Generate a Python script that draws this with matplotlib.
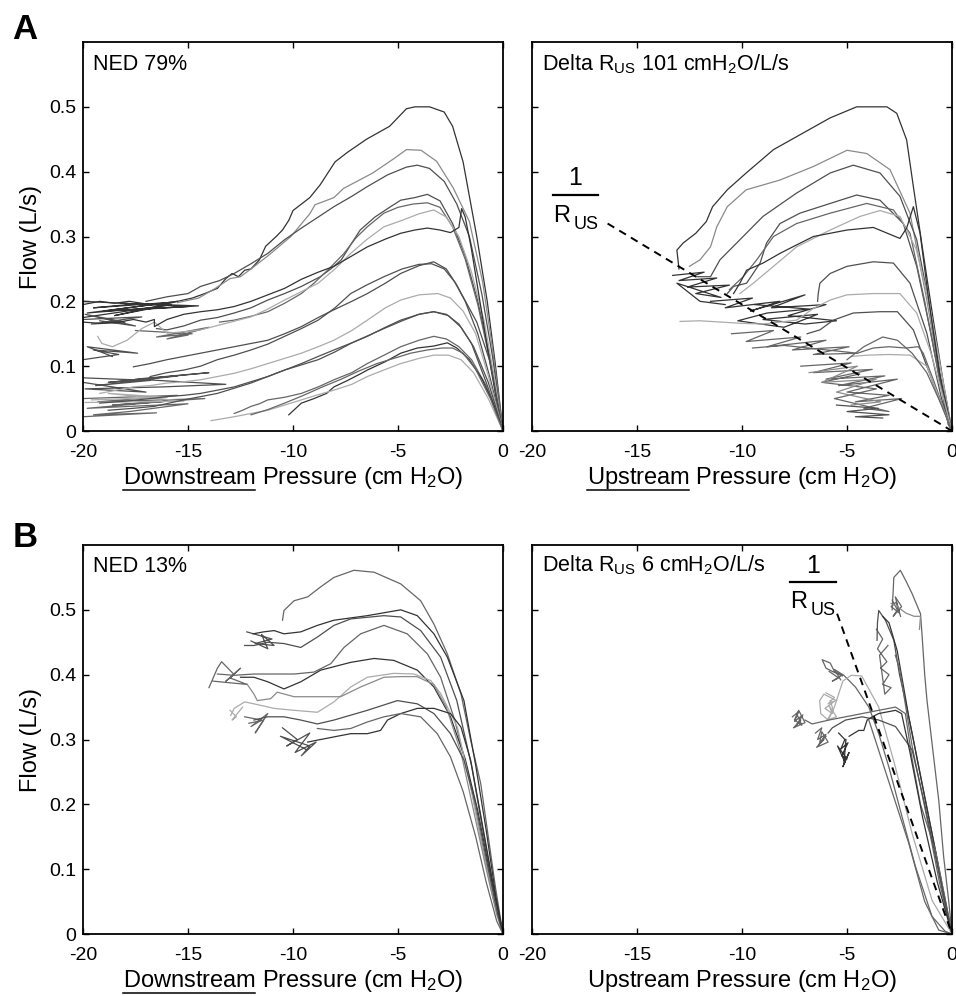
# Flow vs downstream / upstream pressure, NED panels A and B

import matplotlib
matplotlib.use("Agg")
import matplotlib.pyplot as plt
from matplotlib.lines import Line2D

plt.rcParams['font.family'] = ['Liberation Sans', 'DejaVu Sans']
plt.rcParams['mathtext.fontset'] = 'custom'
plt.rcParams['mathtext.rm'] = 'Liberation Sans'
plt.rcParams['mathtext.default'] = 'regular'
plt.rcParams['axes.unicode_minus'] = False

# ---------------- data (pressure cmH2O, flow L/s) ----------------

xticks = [-20, -15, -10, -5, 0]
xtick_labels = ["-20", "-15", "-10", "-5", "0"]
yticks = [0, 0.1, 0.2, 0.3, 0.4, 0.5]
ytick_labels = ["0", "0.1", "0.2", "0.3", "0.4", "0.5"]

# Panel A, downstream pressure
a_dn_p1 = [-20, -19.2, -18.5, -17.8, -17, -16.2, -15.5, -14.8, -14.2, -13.6, -13.2, -12.9, -12.6, -12.3, -12.0, -11.6, -11.3, -10.8, -10.5, -10.2, -10.0, -9.6, -9.2, -8.7, -8.0, -7.4, -6.5, -5.4, -4.6, -4.2, -3.5, -2.8, -2.4, -1.9, -1.25, -0.75, -0.38, 0]
a_dn_f1 = [0.195, 0.2, 0.197, 0.2, 0.196, 0.197, 0.2, 0.205, 0.212, 0.22, 0.235, 0.243, 0.238, 0.248, 0.25, 0.264, 0.285, 0.3, 0.31, 0.325, 0.34, 0.35, 0.36, 0.38, 0.415, 0.43, 0.45, 0.47, 0.497, 0.5, 0.5, 0.492, 0.47, 0.415, 0.3, 0.2, 0.107, 0.0]
a_dn_p2 = [-15.5, -14.5, -13.7, -13.0, -12.5, -12.0, -11.2, -10.1, -9.2, -8.95, -8.05, -7.6, -6.2, -5.2, -4.6, -3.9, -3.16, -2.37, -1.6, -0.97, -0.5, 0]
a_dn_f2 = [0.198, 0.205, 0.22, 0.235, 0.238, 0.25, 0.27, 0.3, 0.335, 0.349, 0.36, 0.374, 0.398, 0.42, 0.434, 0.433, 0.416, 0.375, 0.323, 0.23, 0.127, 0.0]
a_dn_p3 = [-17, -16, -15, -14.4, -13.5, -12.8, -12, -11.2, -10.4, -9.6, -8.8, -8.05, -7.2, -6.46, -5.5, -4.6, -4.08, -3.5, -2.8, -2.2, -1.6, -1.0, -0.5, 0]
a_dn_f3 = [0.2, 0.207, 0.212, 0.223, 0.232, 0.243, 0.258, 0.274, 0.295, 0.313, 0.33, 0.346, 0.362, 0.377, 0.395, 0.407, 0.41, 0.405, 0.385, 0.35, 0.3, 0.21, 0.115, 0.0]
a_dn_p4 = [-16.5, -16, -15.2, -14.4, -13.6, -12.8, -12, -11.2, -10.4, -9.6, -8.7, -8.2, -7.7, -7.2, -6.8, -6.1, -5.4, -4.87, -4.2, -3.6, -3.0, -2.4, -1.8, -1.2, -0.6, 0]
a_dn_f4 = [0.158, 0.156, 0.162, 0.171, 0.175, 0.182, 0.19, 0.202, 0.212, 0.223, 0.238, 0.25, 0.264, 0.29, 0.31, 0.33, 0.345, 0.356, 0.36, 0.365, 0.355, 0.32, 0.27, 0.2, 0.11, 0.0]
a_dn_p5 = [-13.5, -12.8, -12, -11.2, -10.4, -9.6, -9.0, -8.35, -7.57, -7.0, -6.46, -5.67, -5.0, -4.3, -3.6, -3.0, -2.4, -1.8, -1.2, -0.6, 0]
a_dn_f5 = [0.168, 0.171, 0.177, 0.184, 0.197, 0.212, 0.228, 0.248, 0.274, 0.298, 0.315, 0.336, 0.345, 0.35, 0.352, 0.345, 0.315, 0.265, 0.195, 0.105, 0.0]
a_dn_p6 = [-19.3, -19.1, -18.6, -17.9, -17.2, -16.6, -16, -15.2, -14.4, -13.2, -12, -11.2, -10.4, -9.6, -8.8, -8, -7.25, -6.5, -5.67, -4.8, -4, -3.3, -2.7, -2.1, -1.5, -0.9, -0.4, 0]
a_dn_f6 = [0.146, 0.135, 0.13, 0.14, 0.158, 0.168, 0.151, 0.153, 0.156, 0.166, 0.176, 0.188, 0.202, 0.215, 0.228, 0.25, 0.274, 0.295, 0.315, 0.325, 0.335, 0.341, 0.33, 0.3, 0.245, 0.17, 0.08, 0.0]
a_dn_p7 = [-20, -19.2, -18.3, -17.6, -17.0, -16.6, -16.6, -16.0, -15.2, -14.4, -13.6, -12.8, -12.0, -11.2, -10.4, -9.6, -8.8, -8.05, -7.2, -6.46, -5.6, -4.87, -4.2, -3.6, -3.0, -2.5, -2.1, -1.97, -1.8, -1.5, -1.1, -0.7, -0.35, 0]
a_dn_f7 = [0.168, 0.166, 0.168, 0.172, 0.168, 0.172, 0.161, 0.172, 0.18, 0.184, 0.187, 0.192, 0.2, 0.21, 0.22, 0.234, 0.245, 0.254, 0.27, 0.284, 0.296, 0.305, 0.31, 0.313, 0.31, 0.306, 0.314, 0.343, 0.33, 0.28, 0.2, 0.12, 0.055, 0.0]
a_dn_p8 = [-17.6, -16.8, -16, -15.2, -14.4, -13.6, -12.8, -12, -11.2, -10.4, -9.6, -8.8, -8.05, -7.2, -6.46, -5.6, -4.87, -4, -3.3, -2.7, -2.2, -1.7, -1.25, -0.62, 0]
a_dn_f8 = [0.099, 0.104, 0.11, 0.115, 0.12, 0.125, 0.13, 0.135, 0.14, 0.15, 0.161, 0.175, 0.187, 0.2, 0.212, 0.228, 0.243, 0.255, 0.261, 0.25, 0.225, 0.195, 0.168, 0.107, 0.0]
a_dn_p9 = [-16.8, -16, -15.2, -14.4, -13.6, -12.8, -12, -11.2, -10.4, -9.6, -8.8, -8.0, -7.25, -6.5, -5.67, -4.8, -4.0, -3.4, -2.8, -2.3, -1.8, -1.2, -0.6, 0]
a_dn_f9 = [0.084, 0.09, 0.094, 0.1, 0.11, 0.117, 0.125, 0.134, 0.146, 0.158, 0.171, 0.19, 0.212, 0.225, 0.238, 0.25, 0.257, 0.258, 0.25, 0.23, 0.2, 0.15, 0.08, 0.0]
a_dn_p10 = [-19.2, -18.4, -17.6, -16.8, -16, -15.2, -14.4, -13.6, -12.8, -12, -11.2, -10.4, -9.6, -8.8, -8.05, -7.2, -6.46, -5.6, -4.87, -4, -3.1, -2.5, -1.9, -1.3, -0.7, 0]
a_dn_f10 = [0.058, 0.063, 0.068, 0.07, 0.074, 0.076, 0.079, 0.084, 0.089, 0.096, 0.104, 0.112, 0.12, 0.13, 0.14, 0.155, 0.171, 0.19, 0.202, 0.21, 0.212, 0.205, 0.185, 0.15, 0.085, 0.0]
a_dn_p11 = [-19.2, -18, -16.8, -16, -15.2, -14.4, -13.6, -12.8, -12, -11.2, -10.4, -9.6, -8.8, -8.05, -7.2, -6.46, -5.6, -4.87, -4, -3.3, -2.6, -2.0, -1.4, -0.7, 0]
a_dn_f11 = [0.043, 0.046, 0.05, 0.053, 0.055, 0.058, 0.063, 0.068, 0.076, 0.084, 0.094, 0.104, 0.115, 0.125, 0.136, 0.146, 0.16, 0.171, 0.18, 0.184, 0.178, 0.16, 0.13, 0.075, 0.0]
a_dn_p12 = [-18.8, -17.6, -16.6, -15.2, -14.4, -13.6, -12.8, -12, -11.2, -10.4, -9.6, -8.8, -8.0, -7.25, -6.5, -5.67, -4.8, -4, -3.3, -2.7, -2.1, -1.5, -0.8, 0]
a_dn_f12 = [0.032, 0.035, 0.038, 0.048, 0.053, 0.058, 0.066, 0.074, 0.084, 0.094, 0.102, 0.11, 0.122, 0.135, 0.146, 0.158, 0.17, 0.18, 0.184, 0.18, 0.165, 0.135, 0.075, 0.0]
a_dn_p13 = [-12.8, -12.4, -12, -11.6, -11.2, -10.4, -9.6, -8.8, -8.05, -7.2, -6.46, -5.6, -4.87, -4, -3.3, -2.7, -2.1, -1.5, -0.8, 0]
a_dn_f13 = [0.027, 0.032, 0.038, 0.042, 0.048, 0.052, 0.058, 0.068, 0.079, 0.09, 0.104, 0.118, 0.13, 0.14, 0.146, 0.142, 0.13, 0.11, 0.07, 0.0]
a_dn_p14 = [-10.2, -9.6, -9.0, -8.4, -8.05, -7.4, -6.8, -6.46, -5.6, -4.87, -4.08, -3.3, -2.65, -2.2, -1.6, -1.0, -0.5, 0]
a_dn_f14 = [0.025, 0.043, 0.05, 0.058, 0.068, 0.078, 0.088, 0.094, 0.107, 0.12, 0.128, 0.131, 0.136, 0.128, 0.11, 0.08, 0.045, 0.0]
a_dn_p15 = [-13.9, -12.8, -11.2, -10.4, -9.6, -8.8, -8.05, -7.2, -6.46, -5.6, -4.87, -4, -3.3, -2.6, -2.0, -1.4, -0.7, 0]
a_dn_f15 = [0.016, 0.022, 0.032, 0.04, 0.048, 0.056, 0.063, 0.072, 0.084, 0.095, 0.104, 0.112, 0.117, 0.117, 0.11, 0.09, 0.05, 0.0]
a_dn_p16 = [-12, -11.2, -10.4, -9.5, -8.6, -7.7, -6.9, -6, -5.2, -4.4, -3.6, -2.9, -2.4, -1.9, -1.3, -0.6, 0]
a_dn_f16 = [0.025, 0.033, 0.043, 0.055, 0.068, 0.08, 0.092, 0.104, 0.112, 0.12, 0.125, 0.128, 0.128, 0.12, 0.095, 0.05, 0.0]
# noisy tails at the far left
a_dn_pj1 = [-20, -17.5, -19.5, -16, -19, -15, -18.2, -14.5, -17, -15.5, -19.8, -16.8, -18.5, -15.8, -20]
a_dn_fj1 = [0.2, 0.196, 0.19, 0.198, 0.185, 0.192, 0.197, 0.193, 0.188, 0.2, 0.182, 0.19, 0.178, 0.195, 0.175]
a_dn_pj2 = [-20, -17.2, -19.6, -18, -19.9, -17.5, -19.2]
a_dn_fj2 = [0.172, 0.176, 0.165, 0.168, 0.18, 0.162, 0.17]
a_dn_pj3 = [-17.5, -14.8, -16.5, -14, -16, -15]
a_dn_fj3 = [0.155, 0.15, 0.145, 0.16, 0.142, 0.148]
a_dn_pj4 = [-20, -18.3, -19.5, -17.4, -19.8, -18.6]
a_dn_fj4 = [0.11, 0.118, 0.125, 0.12, 0.13, 0.115]
a_dn_pj5 = [-20, -16.8, -19.4, -15.5, -18.8, -14, -17.5, -13.2, -16.2, -19.9, -17, -20]
a_dn_fj5 = [0.082, 0.078, 0.07, 0.085, 0.075, 0.09, 0.08, 0.072, 0.068, 0.065, 0.06, 0.075]
a_dn_pj6 = [-20, -15.5, -19.3, -14.2, -18.6, -16, -19.8, -15, -17.8, -19.5, -16.5, -20]
a_dn_fj6 = [0.05, 0.055, 0.045, 0.05, 0.04, 0.046, 0.035, 0.042, 0.03, 0.025, 0.028, 0.022]
a_dn_pj7 = [-19.6, -16, -18.8, -15.2, -19.9]
a_dn_fj7 = [0.048, 0.052, 0.058, 0.046, 0.044]

# Panel A, upstream pressure
a_up_p1 = [-13.0, -13.1, -12.8, -12.2, -11.7, -11.4, -10.7, -9.8, -8.5, -7.4, -5.8, -4.54, -3.1, -2.63, -2.16, -1.84, -1.37, -0.89, -0.41, 0]
a_up_f1 = [0.25, 0.279, 0.29, 0.305, 0.323, 0.346, 0.372, 0.398, 0.434, 0.454, 0.483, 0.5, 0.5, 0.49, 0.449, 0.377, 0.274, 0.171, 0.074, 0.0]
a_up_p2 = [-12.5, -12.0, -11.5, -11.2, -10.7, -9.8, -8.2, -6.6, -5.0, -4.06, -2.95, -2.0, -1.2, -0.25, 0]
a_up_f2 = [0.254, 0.264, 0.284, 0.315, 0.346, 0.372, 0.387, 0.408, 0.433, 0.428, 0.403, 0.336, 0.202, 0.022, 0.0]
a_up_p3 = [-12.2, -11.5, -11.05, -10.1, -9.0, -7.4, -5.8, -4.7, -3.43, -2.48, -1.68, -1.05, -0.25, 0]
a_up_f3 = [0.238, 0.238, 0.264, 0.295, 0.331, 0.367, 0.398, 0.41, 0.398, 0.362, 0.295, 0.19, 0.02, 0.0]
a_up_p4 = [-10.7, -10.4, -9.78, -9.14, -8.83, -8.19, -7.24, -5.8, -4.54, -3.43, -2.32, -1.68, -1.0, -0.18, 0]
a_up_f4 = [0.212, 0.223, 0.228, 0.259, 0.29, 0.32, 0.336, 0.351, 0.364, 0.356, 0.32, 0.254, 0.15, 0.01, 0.0]
a_up_p5 = [-10.6, -9.94, -9.3, -8.5, -7.4, -5.8, -4.06, -2.79, -2.0, -1.3, -0.6, 0]
a_up_f5 = [0.218, 0.238, 0.264, 0.3, 0.32, 0.336, 0.351, 0.341, 0.305, 0.2, 0.08, 0.0]
a_up_p6 = [-10.1, -9.46, -8.5, -7.4, -5.8, -4.38, -3.43, -2.48, -1.7, -1.1, -0.5, 0]
a_up_f6 = [0.212, 0.228, 0.254, 0.284, 0.31, 0.331, 0.34, 0.331, 0.28, 0.2, 0.09, 0.0]
a_up_p7 = [-10.4, -10.1, -9.78, -9.0, -8.19, -7.4, -6.6, -5.0, -3.75, -2.48, -2.16, -1.84, -1.52, -1.1, -0.6, 0]
a_up_f7 = [0.212, 0.228, 0.248, 0.259, 0.274, 0.287, 0.3, 0.31, 0.314, 0.297, 0.313, 0.346, 0.305, 0.2, 0.09, 0.0]
a_up_p8 = [-6.4, -6.37, -6.29, -5.8, -5.0, -3.75, -2.79, -2.0, -1.2, -0.5, 0]
a_up_f8 = [0.2, 0.212, 0.228, 0.243, 0.254, 0.261, 0.259, 0.228, 0.151, 0.05, 0.0]
a_up_p9 = [-12.95, -12.0, -11, -10, -9, -8.2, -7.4, -6.6, -5.8, -5.0, -3.75, -2.48, -1.68, -1.0, -0.4, 0]
a_up_f9 = [0.169, 0.17, 0.168, 0.166, 0.165, 0.168, 0.171, 0.189, 0.202, 0.21, 0.212, 0.212, 0.182, 0.12, 0.05, 0.0]
a_up_p10 = [-6.9, -6.29, -5.65, -4.7, -3.43, -2.6, -1.84, -1.2, -0.5, 0]
a_up_f10 = [0.15, 0.156, 0.171, 0.182, 0.184, 0.184, 0.156, 0.1, 0.04, 0.0]
a_up_p11 = [-4.5, -3.75, -3.0, -2.2, -1.6, -1.37, -0.9, -0.4, 0]
a_up_f11 = [0.12, 0.128, 0.13, 0.128, 0.13, 0.12, 0.08, 0.035, 0.0]
a_up_p12 = [-4.8, -4.0, -3.0, -2.0, -1.2, -0.6, 0]
a_up_f12 = [0.115, 0.117, 0.118, 0.117, 0.1, 0.05, 0.0]
a_up_p13 = [-5.0, -4.2, -3.3, -2.6, -1.9, -1.2, -0.5, 0]
a_up_f13 = [0.11, 0.13, 0.145, 0.14, 0.12, 0.09, 0.04, 0.0]
# noisy band along the 1/R_US line
a_up_pj1 = [-13.3, -11.8, -13.0, -11.2, -12.6, -10.6, -12.2, -11.0, -13.1, -12.0, -10.8]
a_up_fj1 = [0.24, 0.245, 0.232, 0.236, 0.222, 0.225, 0.212, 0.206, 0.228, 0.2, 0.195]
a_up_pj2 = [-11.5, -9.5, -10.8, -8.2, -9.6, -7.0, -8.6, -6.0, -7.8, -5.5, -7.0, -9.0, -6.4, -8.0, -10.2, -8.8, -6.8, -9.4]
a_up_fj2 = [0.2, 0.205, 0.19, 0.2, 0.185, 0.21, 0.19, 0.195, 0.178, 0.17, 0.165, 0.172, 0.18, 0.16, 0.17, 0.182, 0.188, 0.195]
a_up_pj3 = [-10.5, -8.5, -9.8, -7.2, -8.8, -6.0, -7.6, -4.9, -6.6, -4.5, -8.0, -9.5]
a_up_fj3 = [0.15, 0.155, 0.138, 0.145, 0.13, 0.14, 0.125, 0.13, 0.118, 0.12, 0.132, 0.128]
a_up_pj4 = [-7.2, -4.8, -6.6, -3.8, -6.0, -3.2, -5.4, -2.6, -5.0, -3.0, -4.6, -2.4, -4.2, -3.0, -5.6, -3.6, -6.2, -4.4]
a_up_fj4 = [0.1, 0.105, 0.09, 0.095, 0.08, 0.085, 0.07, 0.08, 0.06, 0.055, 0.045, 0.05, 0.035, 0.03, 0.05, 0.065, 0.075, 0.088]
a_up_pj5 = [-6.8, -4.5, -6.2, -3.6, -5.5, -3.4, -4.8]
a_up_fj5 = [0.09, 0.1, 0.075, 0.08, 0.06, 0.045, 0.04]
a_up_pj6 = [-5.5, -3.5, -5.0, -3.0, -4.6, -3.3]
a_up_fj6 = [0.04, 0.035, 0.03, 0.025, 0.022, 0.02]
a_rus_p = [-16.4, 0]
a_rus_f = [0.32, 0]

# Panel B, downstream pressure
b_dn_p1 = [-10.5, -10.43, -9.95, -9.3, -8.7, -8.05, -7.1, -6.14, -4.87, -3.92, -3.29, -2.65, -2.0, -1.54, -1.06, -0.7, -0.35, 0]
b_dn_f1 = [0.484, 0.499, 0.514, 0.52, 0.535, 0.55, 0.561, 0.558, 0.54, 0.514, 0.478, 0.432, 0.37, 0.299, 0.232, 0.15, 0.07, 0.0]
b_dn_p2 = [-11.9, -11.4, -10.9, -10.43, -9.63, -8.84, -8.05, -6.46, -4.87, -4.08, -3.29, -2.65, -1.86, -1.3, -0.8, -0.35, 0]
b_dn_f2 = [0.463, 0.466, 0.468, 0.463, 0.466, 0.476, 0.484, 0.491, 0.5, 0.491, 0.463, 0.427, 0.36, 0.26, 0.16, 0.06, 0.0]
b_dn_p3 = [-12.3, -11.86, -11.2, -10.43, -9.63, -8.84, -8.05, -7.25, -5.67, -4.87, -3.92, -2.97, -2.2, -1.5, -0.9, -0.4, 0]
b_dn_f3 = [0.445, 0.445, 0.45, 0.448, 0.442, 0.458, 0.476, 0.486, 0.491, 0.489, 0.468, 0.427, 0.36, 0.26, 0.15, 0.06, 0.0]
b_dn_p4 = [-13.6, -12.8, -11.86, -10.9, -9.95, -9.0, -8.2, -7.57, -6.78, -5.67, -4.56, -3.6, -2.97, -2.3, -1.6, -1.0, -0.5, 0]
b_dn_f4 = [0.401, 0.399, 0.401, 0.401, 0.401, 0.404, 0.417, 0.442, 0.463, 0.476, 0.463, 0.432, 0.396, 0.33, 0.24, 0.14, 0.06, 0.0]
b_dn_p5 = [-12.5, -11.86, -11.2, -10.43, -9.63, -8.68, -7.25, -6.14, -5.2, -4.08, -3.29, -2.5, -1.8, -1.2, -0.6, 0]
b_dn_f5 = [0.396, 0.396, 0.389, 0.378, 0.389, 0.407, 0.419, 0.425, 0.422, 0.407, 0.381, 0.335, 0.27, 0.19, 0.09, 0.0]
b_dn_p6 = [-12.97, -12.8, -12.3, -11.86, -10.9, -9.95, -8.84, -8.05, -7.25, -6.46, -5.2, -4.24, -3.44, -2.97, -2.17, -1.5, -0.9, -0.4, 0]
b_dn_f6 = [0.337, 0.348, 0.358, 0.355, 0.348, 0.345, 0.342, 0.358, 0.381, 0.396, 0.402, 0.401, 0.391, 0.371, 0.319, 0.22, 0.12, 0.05, 0.0]
b_dn_p7 = [-12.2, -11.86, -11.7, -11.06, -10.75, -9.95, -8.84, -7.73, -6.78, -5.67, -4.87, -4.1, -3.3, -2.7, -2.0, -1.4, -0.8, -0.3, 0]
b_dn_f7 = [0.386, 0.37, 0.36, 0.363, 0.373, 0.366, 0.366, 0.366, 0.381, 0.396, 0.397, 0.397, 0.385, 0.35, 0.28, 0.19, 0.1, 0.03, 0.0]
b_dn_p8 = [-11.86, -11.2, -10.43, -9.63, -8.84, -8.05, -6.46, -5.03, -4.08, -3.29, -2.5, -1.86, -1.3, -0.7, -0.25, 0]
b_dn_f8 = [0.33, 0.335, 0.335, 0.33, 0.324, 0.33, 0.345, 0.36, 0.355, 0.34, 0.309, 0.268, 0.2, 0.1, 0.03, 0.0]
b_dn_p9 = [-9.3, -8.84, -8.05, -7.25, -6.46, -5.83, -5.5, -4.87, -4.08, -3.29, -2.5, -2.0, -1.54, -1.1, -0.6, -0.2, 0]
b_dn_f9 = [0.296, 0.299, 0.304, 0.309, 0.309, 0.314, 0.33, 0.34, 0.348, 0.348, 0.34, 0.319, 0.268, 0.19, 0.1, 0.03, 0.0]
b_dn_p10 = [-8.84, -8.05, -7.25, -6.46, -5.67, -4.87, -3.92, -3.13, -2.5, -1.9, -1.3, -0.8, -0.3, 0]
b_dn_f10 = [0.317, 0.314, 0.317, 0.327, 0.335, 0.34, 0.335, 0.309, 0.273, 0.22, 0.15, 0.08, 0.02, 0.0]
b_dn_pj1 = [-12.2, -11.0, -11.8, -10.9, -11.5, -11.2, -12.0]
b_dn_fj1 = [0.466, 0.455, 0.448, 0.445, 0.462, 0.44, 0.452]
b_dn_pj2 = [-14.0, -13.6, -13.4, -12.8, -13.2, -12.5, -13.0, -12.2, -13.8]
b_dn_fj2 = [0.38, 0.41, 0.42, 0.4, 0.39, 0.41, 0.395, 0.385, 0.39]
b_dn_pj3 = [-13.0, -12.7, -12.9, -12.4]
b_dn_fj3 = [0.345, 0.335, 0.33, 0.35]
b_dn_pj4 = [-12.3, -11.5, -12.0, -11.2, -11.8, -11.4, -12.1]
b_dn_fj4 = [0.335, 0.33, 0.32, 0.34, 0.31, 0.33, 0.325]
b_dn_pj5 = [-10.5, -9.8, -10.3, -9.2, -9.9, -8.9, -9.6, -9.2, -10.6, -9.4]
b_dn_fj5 = [0.318, 0.3, 0.29, 0.31, 0.28, 0.296, 0.275, 0.29, 0.305, 0.285]

# Panel B, upstream pressure
b_up_p1 = [-2.85, -2.8, -2.77, -2.46, -2.2, -1.9, -1.5, -1.43, -1.3, -1.19, -0.9, -0.63, -0.4, -0.16, 0]
b_up_f1 = [0.5, 0.53, 0.55, 0.561, 0.545, 0.525, 0.494, 0.463, 0.4, 0.36, 0.28, 0.206, 0.12, 0.052, 0.0]
b_up_p2 = [-3.57, -3.55, -3.49, -3.3, -3.17, -2.77, -2.5, -2.22, -1.9, -1.58, -0.95, -0.32, 0]
b_up_f2 = [0.453, 0.48, 0.499, 0.49, 0.484, 0.453, 0.4, 0.36, 0.31, 0.258, 0.155, 0.052, 0.0]
b_up_p3 = [-3.3, -3.0, -2.61, -2.3, -2.06, -1.43, -0.79, -0.3, 0]
b_up_f3 = [0.49, 0.48, 0.437, 0.38, 0.335, 0.232, 0.129, 0.04, 0.0]
b_up_p4 = [-2.7, -2.5, -2.2, -1.9, -1.2, -0.6, 0]
b_up_f4 = [0.43, 0.41, 0.35, 0.29, 0.18, 0.08, 0.0]
b_up_p5 = [-5.23, -5.7, -6.0, -6.18, -5.8, -5.6, -5.15, -4.6, -3.96, -3.49, -3.01, -2.38, -1.74, -0.95, -0.32, 0]
b_up_f5 = [0.398, 0.405, 0.41, 0.423, 0.418, 0.405, 0.399, 0.381, 0.35, 0.309, 0.258, 0.181, 0.104, 0.027, 0.004, 0.0]
b_up_p6 = [-5.5, -6.1, -6.3, -6.25, -5.9, -5.6, -5.2, -4.8, -4.3, -3.49, -2.7, -1.9, -0.95, 0]
b_up_f6 = [0.36, 0.37, 0.36, 0.34, 0.33, 0.35, 0.39, 0.399, 0.398, 0.35, 0.258, 0.155, 0.052, 0.0]
b_up_p7 = [-7.0, -6.66, -5.86, -5.07, -4.28, -3.49, -2.69, -2.22, -1.9, -1.5, -0.79, -0.3, 0]
b_up_f7 = [0.33, 0.324, 0.33, 0.335, 0.34, 0.345, 0.35, 0.34, 0.27, 0.2, 0.129, 0.05, 0.0]
b_up_p8 = [-5.9, -5.7, -5.07, -4.28, -3.49, -2.69, -1.9, -1.3, -0.6, 0]
b_up_f8 = [0.31, 0.318, 0.33, 0.335, 0.33, 0.32, 0.284, 0.2, 0.09, 0.0]
b_up_p9 = [-4.9, -4.44, -4.2, -4.04, -3.8, -3.49, -2.69, -2.4, -2.0, -1.4, -0.7, 0]
b_up_f9 = [0.305, 0.314, 0.314, 0.33, 0.335, 0.34, 0.345, 0.34, 0.28, 0.18, 0.08, 0.0]
b_up_p10 = [-3.96, -3.01, -2.06, -1.3, -0.63, 0]
b_up_f10 = [0.33, 0.235, 0.14, 0.05, 0.006, 0.0]
b_up_p11 = [-2.9, -2.6, -2.2, -1.8, -1.5, -1.55]
b_up_f11 = [0.51, 0.505, 0.495, 0.49, 0.49, 0.47]
b_up_pj1 = [-2.85, -2.6, -2.8, -2.4, -2.7, -2.5, -2.9, -2.65, -2.45]
b_up_fj1 = [0.515, 0.5, 0.49, 0.505, 0.52, 0.495, 0.505, 0.512, 0.49]
b_up_pj2 = [-3.6, -3.3, -3.55, -3.1, -3.4, -3.0, -3.3, -2.9, -3.2, -3.45, -3.05]
b_up_fj2 = [0.47, 0.455, 0.44, 0.42, 0.41, 0.4, 0.385, 0.38, 0.37, 0.43, 0.445]
b_up_pj3 = [-6.0, -5.6, -5.9, -5.55, -6.05, -5.7, -5.85, -5.5, -5.95, -5.65, -5.8]
b_up_fj3 = [0.372, 0.365, 0.355, 0.36, 0.348, 0.34, 0.352, 0.335, 0.33, 0.345, 0.36]
b_up_pj4 = [-7.6, -7.3, -7.5, -7.1, -7.45, -7.2, -7.55, -7.0, -7.3, -7.5, -7.15, -7.4]
b_up_fj4 = [0.335, 0.343, 0.328, 0.338, 0.32, 0.33, 0.318, 0.326, 0.345, 0.33, 0.322, 0.34]
b_up_pj5 = [-6.5, -6.2, -6.4, -6.0, -6.35, -6.1, -6.45, -5.9, -6.2, -6.3, -6.0]
b_up_fj5 = [0.31, 0.318, 0.3, 0.308, 0.292, 0.3, 0.288, 0.296, 0.312, 0.295, 0.305]
b_up_pj6 = [-5.4, -5.1, -5.3, -4.95, -5.25, -5.0, -5.45, -5.1, -5.2, -4.9, -5.15, -5.05]
b_up_fj6 = [0.31, 0.3, 0.285, 0.295, 0.275, 0.27, 0.29, 0.265, 0.258, 0.28, 0.262, 0.3]
b_up_pj7 = [-5.85, -5.4, -5.7, -5.2, -5.6, -5.3]
b_up_fj7 = [0.405, 0.395, 0.39, 0.4, 0.408, 0.392]
b_rus_p = [-5.47, 0]
b_rus_f = [0.494, 0]

# ---------------- traces per panel with grey levels ----------------
D1, D2, D3, G1, G2 = '#333333', '#4f4f4f', '#666666', '#8a8a8a', '#ababab'

a_dn = [(a_dn_pj1, a_dn_fj1, D1), (a_dn_pj2, a_dn_fj2, D2), (a_dn_pj3, a_dn_fj3, D3),
        (a_dn_pj4, a_dn_fj4, D2), (a_dn_pj5, a_dn_fj5, D2), (a_dn_pj6, a_dn_fj6, D3),
        (a_dn_pj7, a_dn_fj7, G2),
        (a_dn_p1, a_dn_f1, D1), (a_dn_p2, a_dn_f2, G1), (a_dn_p3, a_dn_f3, D2),
        (a_dn_p4, a_dn_f4, D2), (a_dn_p5, a_dn_f5, D3), (a_dn_p6, a_dn_f6, G2),
        (a_dn_p7, a_dn_f7, D1), (a_dn_p8, a_dn_f8, D2), (a_dn_p9, a_dn_f9, D2),
        (a_dn_p10, a_dn_f10, G2), (a_dn_p11, a_dn_f11, D2), (a_dn_p12, a_dn_f12, D2),
        (a_dn_p13, a_dn_f13, D3), (a_dn_p14, a_dn_f14, D1), (a_dn_p15, a_dn_f15, G2),
        (a_dn_p16, a_dn_f16, D3)]

a_up = [(a_up_pj1, a_up_fj1, D1), (a_up_pj2, a_up_fj2, D1), (a_up_pj3, a_up_fj3, D3),
        (a_up_pj4, a_up_fj4, D3), (a_up_pj5, a_up_fj5, G1), (a_up_pj6, a_up_fj6, D2),
        (a_up_p1, a_up_f1, D1), (a_up_p2, a_up_f2, G1), (a_up_p3, a_up_f3, D2),
        (a_up_p4, a_up_f4, D2), (a_up_p5, a_up_f5, D3), (a_up_p6, a_up_f6, G2),
        (a_up_p7, a_up_f7, D1), (a_up_p8, a_up_f8, D2), (a_up_p9, a_up_f9, G2),
        (a_up_p10, a_up_f10, D2), (a_up_p11, a_up_f11, D3), (a_up_p12, a_up_f12, G2),
        (a_up_p13, a_up_f13, D3)]

b_dn = [(b_dn_pj1, b_dn_fj1, D2), (b_dn_pj2, b_dn_fj2, D3), (b_dn_pj3, b_dn_fj3, G2),
        (b_dn_pj4, b_dn_fj4, D3), (b_dn_pj5, b_dn_fj5, D2),
        (b_dn_p1, b_dn_f1, D3), (b_dn_p2, b_dn_f2, D1), (b_dn_p3, b_dn_f3, D2),
        (b_dn_p4, b_dn_f4, D3), (b_dn_p5, b_dn_f5, D1), (b_dn_p6, b_dn_f6, G2),
        (b_dn_p7, b_dn_f7, G1), (b_dn_p8, b_dn_f8, D2), (b_dn_p9, b_dn_f9, D1),
        (b_dn_p10, b_dn_f10, D3)]

b_up = [(b_up_pj1, b_up_fj1, D3), (b_up_pj2, b_up_fj2, D3), (b_up_pj3, b_up_fj3, G2),
        (b_up_pj4, b_up_fj4, D3), (b_up_pj5, b_up_fj5, D3), (b_up_pj6, b_up_fj6, D1),
        (b_up_pj7, b_up_fj7, D3),
        (b_up_p1, b_up_f1, D3), (b_up_p2, b_up_f2, D2), (b_up_p3, b_up_f3, D1),
        (b_up_p4, b_up_f4, D3), (b_up_p5, b_up_f5, D3), (b_up_p6, b_up_f6, G2),
        (b_up_p7, b_up_f7, D3), (b_up_p8, b_up_f8, D2), (b_up_p9, b_up_f9, D1),
        (b_up_p10, b_up_f10, D3), (b_up_p11, b_up_f11, G1)]

# ---------------- figure ----------------
fig = plt.figure(figsize=(9.56, 9.96), dpi=100)
W, H = 956, 996

def add_ax(x0, y_bottom):
    return fig.add_axes([x0 / W, 1 - y_bottom / H, 420 / W, 389 / H])

ax_a1 = add_ax(83, 431)
ax_a2 = add_ax(532, 431)
ax_b1 = add_ax(83, 934)
ax_b2 = add_ax(532, 934)

def style(ax, left_labels):
    ax.set_xlim(-20, 0)
    ax.set_ylim(0, 0.6)
    ax.set_xticks(xticks)
    ax.set_xticklabels(xtick_labels)
    ax.set_yticks(yticks)
    ax.set_yticklabels(ytick_labels if left_labels else [])
    ax.tick_params(direction='in', top=True, right=True, length=4, width=1,
                   labelsize=14, colors='black')
    ax.tick_params(axis='x', pad=9)
    ax.tick_params(axis='y', pad=5)
    for s in ax.spines.values():
        s.set_linewidth(1.3)
    if left_labels:
        ax.set_ylabel("Flow (L/s)", fontsize=17, labelpad=5)

def draw(ax, traces):
    for p, f, c in traces:
        ax.plot(p, f, color=c, lw=0.9)

for ax, tr, lab in [(ax_a1, a_dn, True), (ax_a2, a_up, False),
                    (ax_b1, b_dn, True), (ax_b2, b_up, False)]:
    style(ax, lab)
    draw(ax, tr)

ax_a2.plot(a_rus_p, a_rus_f, color='black', lw=1.4, ls=(0, (4, 3)))
ax_b2.plot(b_rus_p, b_rus_f, color='black', lw=1.4, ls=(0, (4, 3)))

xl_dn = "Downstream Pressure (cm H$_2$O)"
xl_up = "Upstream Pressure (cm H$_2$O)"
ax_a1.set_xlabel(xl_dn, fontsize=17, labelpad=3)
ax_a2.set_xlabel(xl_up, fontsize=17, labelpad=3)
ax_b1.set_xlabel(xl_dn, fontsize=17, labelpad=3)
ax_b2.set_xlabel(xl_up, fontsize=17, labelpad=3)

# panel captions
ax_a1.text(0.024, 0.928, "NED 79%", transform=ax_a1.transAxes, fontsize=15.5, va='baseline')
ax_b1.text(0.024, 0.931, "NED 13%", transform=ax_b1.transAxes, fontsize=15.5, va='baseline')
ax_a2.text(0.024, 0.928, "Delta R$_{US}$ 101 cmH$_2$O/L/s", transform=ax_a2.transAxes,
           fontsize=15.5, va='baseline')
ax_b2.text(0.024, 0.931, "Delta R$_{US}$ 6 cmH$_2$O/L/s", transform=ax_b2.transAxes,
           fontsize=15.5, va='baseline')

def fraction(ax, x0, x1, y_num, y_bar, y_den, x_sub, y_sub):
    ax.text((x0 + x1) / 2, y_num, "1", transform=ax.transAxes, fontsize=18,
            ha='center', va='baseline')
    ax.plot([x0, x1], [y_bar, y_bar], transform=ax.transAxes, color='black',
            lw=1.6, clip_on=False)
    ax.text(x0, y_den, "R", transform=ax.transAxes, fontsize=17, va='baseline')
    ax.text(x_sub, y_sub, "US", transform=ax.transAxes, fontsize=13, va='baseline')

fraction(ax_a2, 0.05, 0.157, 0.632, 0.606, 0.538, 0.1, 0.519)
fraction(ax_b2, 0.614, 0.724, 0.928, 0.906, 0.838, 0.664, 0.82)

fig.text(12 / W, 1 - 39 / H, "A", fontsize=25, fontweight='bold', va='baseline')
fig.text(13 / W, 1 - 547 / H, "B", fontsize=25, fontweight='bold', va='baseline')

# underline the first word of the x labels (not in the last panel)
fig.canvas.draw()
rend = fig.canvas.get_renderer()
for ax, word in [(ax_a1, "Downstream"), (ax_a2, "Upstream"), (ax_b1, "Downstream")]:
    lab = ax.xaxis.label
    bb = lab.get_window_extent(rend)
    tmp = fig.text(0, 0, word, fontsize=lab.get_fontsize())
    w = tmp.get_window_extent(rend).width
    tmp.remove()
    y = (bb.y0 + 1) / H
    fig.add_artist(Line2D([bb.x0 / W, (bb.x0 + w) / W], [y, y], color='black', lw=1.1))

fig.savefig("out.png", dpi=100)
